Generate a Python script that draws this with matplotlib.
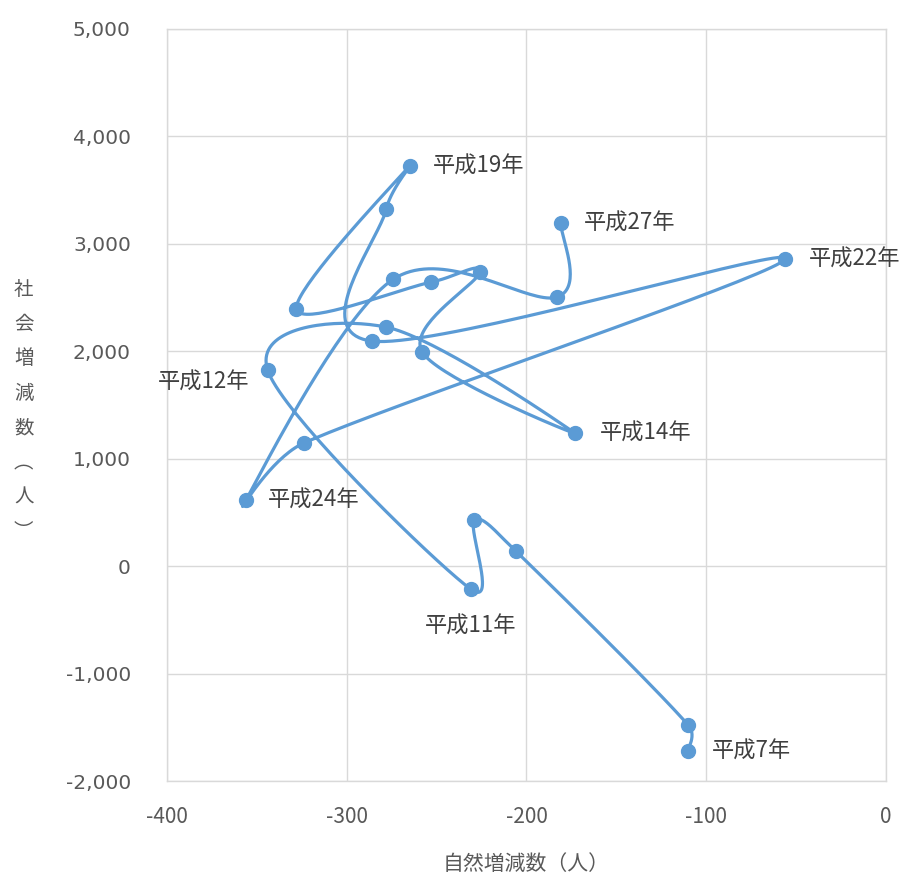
import matplotlib
matplotlib.use('Agg')
import matplotlib.pyplot as plt
import numpy as np

plt.rcParams['font.family'] = ['Noto Sans CJK JP', 'DejaVu Sans']
plt.rcParams['axes.unicode_minus'] = False

# 平成7年〜平成27年 (自然増減数, 社会増減数)
years = list(range(7, 28))
natural = [-110, -110, -206, -229, -231, -344, -278, -173, -258, -226, -253,
           -328, -265, -278, -286, -56, -324, -356, -274, -183, -181]
social = [-1722, -1480, 140, 428, -214, 1825, 2225, 1238, 1993, 2737, 2644,
          2393, 3724, 3324, 2095, 2858, 1145, 615, 2672, 2505, 3194]

# which points get a label, and where the label sits (offset in points)
label_years = [7, 11, 12, 14, 19, 22, 24, 27]
label_offsets = {7: (17, 0, 'left'), 11: (0, -27, 'center'), 12: (-13, -9, 'right'),
                 14: (18, 0, 'left'), 19: (17, 0, 'left'), 22: (17, 0, 'left'),
                 24: (16, 0, 'left'), 27: (17, 0, 'left')}

BLUE = '#5B9BD5'
GRID = '#D9D9D9'
TXT = '#595959'

fig = plt.figure(figsize=(9.1, 8.76), dpi=100)
ax = fig.add_axes([0.1835, 0.1084, 0.7901, 0.8585])
ax.set_xlim(-400, 0)
ax.set_ylim(-2000, 5000)


def smooth_path(xs, ys, ax, n=40, cap=0.5):
    """Excel-like smoothed line: bezier segments built in pixel space,
    control arms limited so short segments don't loop."""
    pts = ax.transData.transform(np.column_stack([xs, ys]))
    out = []
    for i in range(len(pts) - 1):
        p0 = pts[i - 1] if i > 0 else pts[i]
        p1, p2 = pts[i], pts[i + 1]
        p3 = pts[i + 2] if i + 2 < len(pts) else pts[i + 1]
        seglen = np.hypot(*(p2 - p1))
        a1 = (p2 - p0) / 6
        a2 = (p3 - p1) / 6
        for a in (a1, a2):
            ln = np.hypot(*a)
            if ln > cap * seglen:
                a *= cap * seglen / ln
        c1 = p1 + a1
        c2 = p2 - a2
        t = np.linspace(0, 1, n)[:, None]
        seg = ((1 - t) ** 3) * p1 + 3 * ((1 - t) ** 2) * t * c1 + 3 * (1 - t) * t ** 2 * c2 + t ** 3 * p2
        out.append(seg if i == 0 else seg[1:])
    path = np.vstack(out)
    return ax.transData.inverted().transform(path)


curve = smooth_path(natural, social, ax)
ax.plot(curve[:, 0], curve[:, 1], color=BLUE, lw=2.3, solid_capstyle='round', zorder=3)
ax.plot(natural, social, 'o', color=BLUE, ms=10, zorder=4)

for yr in label_years:
    i = years.index(yr)
    dx, dy, ha = label_offsets[yr]
    ax.annotate(f'平成{yr}年', (natural[i], social[i]), xytext=(dx, dy),
                textcoords='offset points', ha=ha, va='center',
                fontsize=16, color='#404040')

ax.set_xticks(np.arange(-400, 1, 100))
ax.set_yticks(np.arange(-2000, 5001, 1000))
ax.set_yticklabels([f'{v:,}' for v in range(-2000, 5001, 1000)], family='DejaVu Sans')
ax.grid(True, color=GRID, lw=1)
ax.set_axisbelow(True)
for s in ax.spines.values():
    s.set_color(GRID)
    s.set_linewidth(1)
ax.tick_params(length=0, colors=TXT, labelsize=15)
ax.tick_params(axis='y', pad=26, labelsize=14.5)
ax.tick_params(axis='x', pad=18)

ax.set_xlabel('自然増減数（人）', fontsize=15, color=TXT, labelpad=18)
fig.text(0.026, 0.531, '\n'.join('社会増減数︵人︶'), fontsize=14, color=TXT,
         ha='center', va='center', linespacing=1.85)

fig.savefig('out.png', dpi=100)
